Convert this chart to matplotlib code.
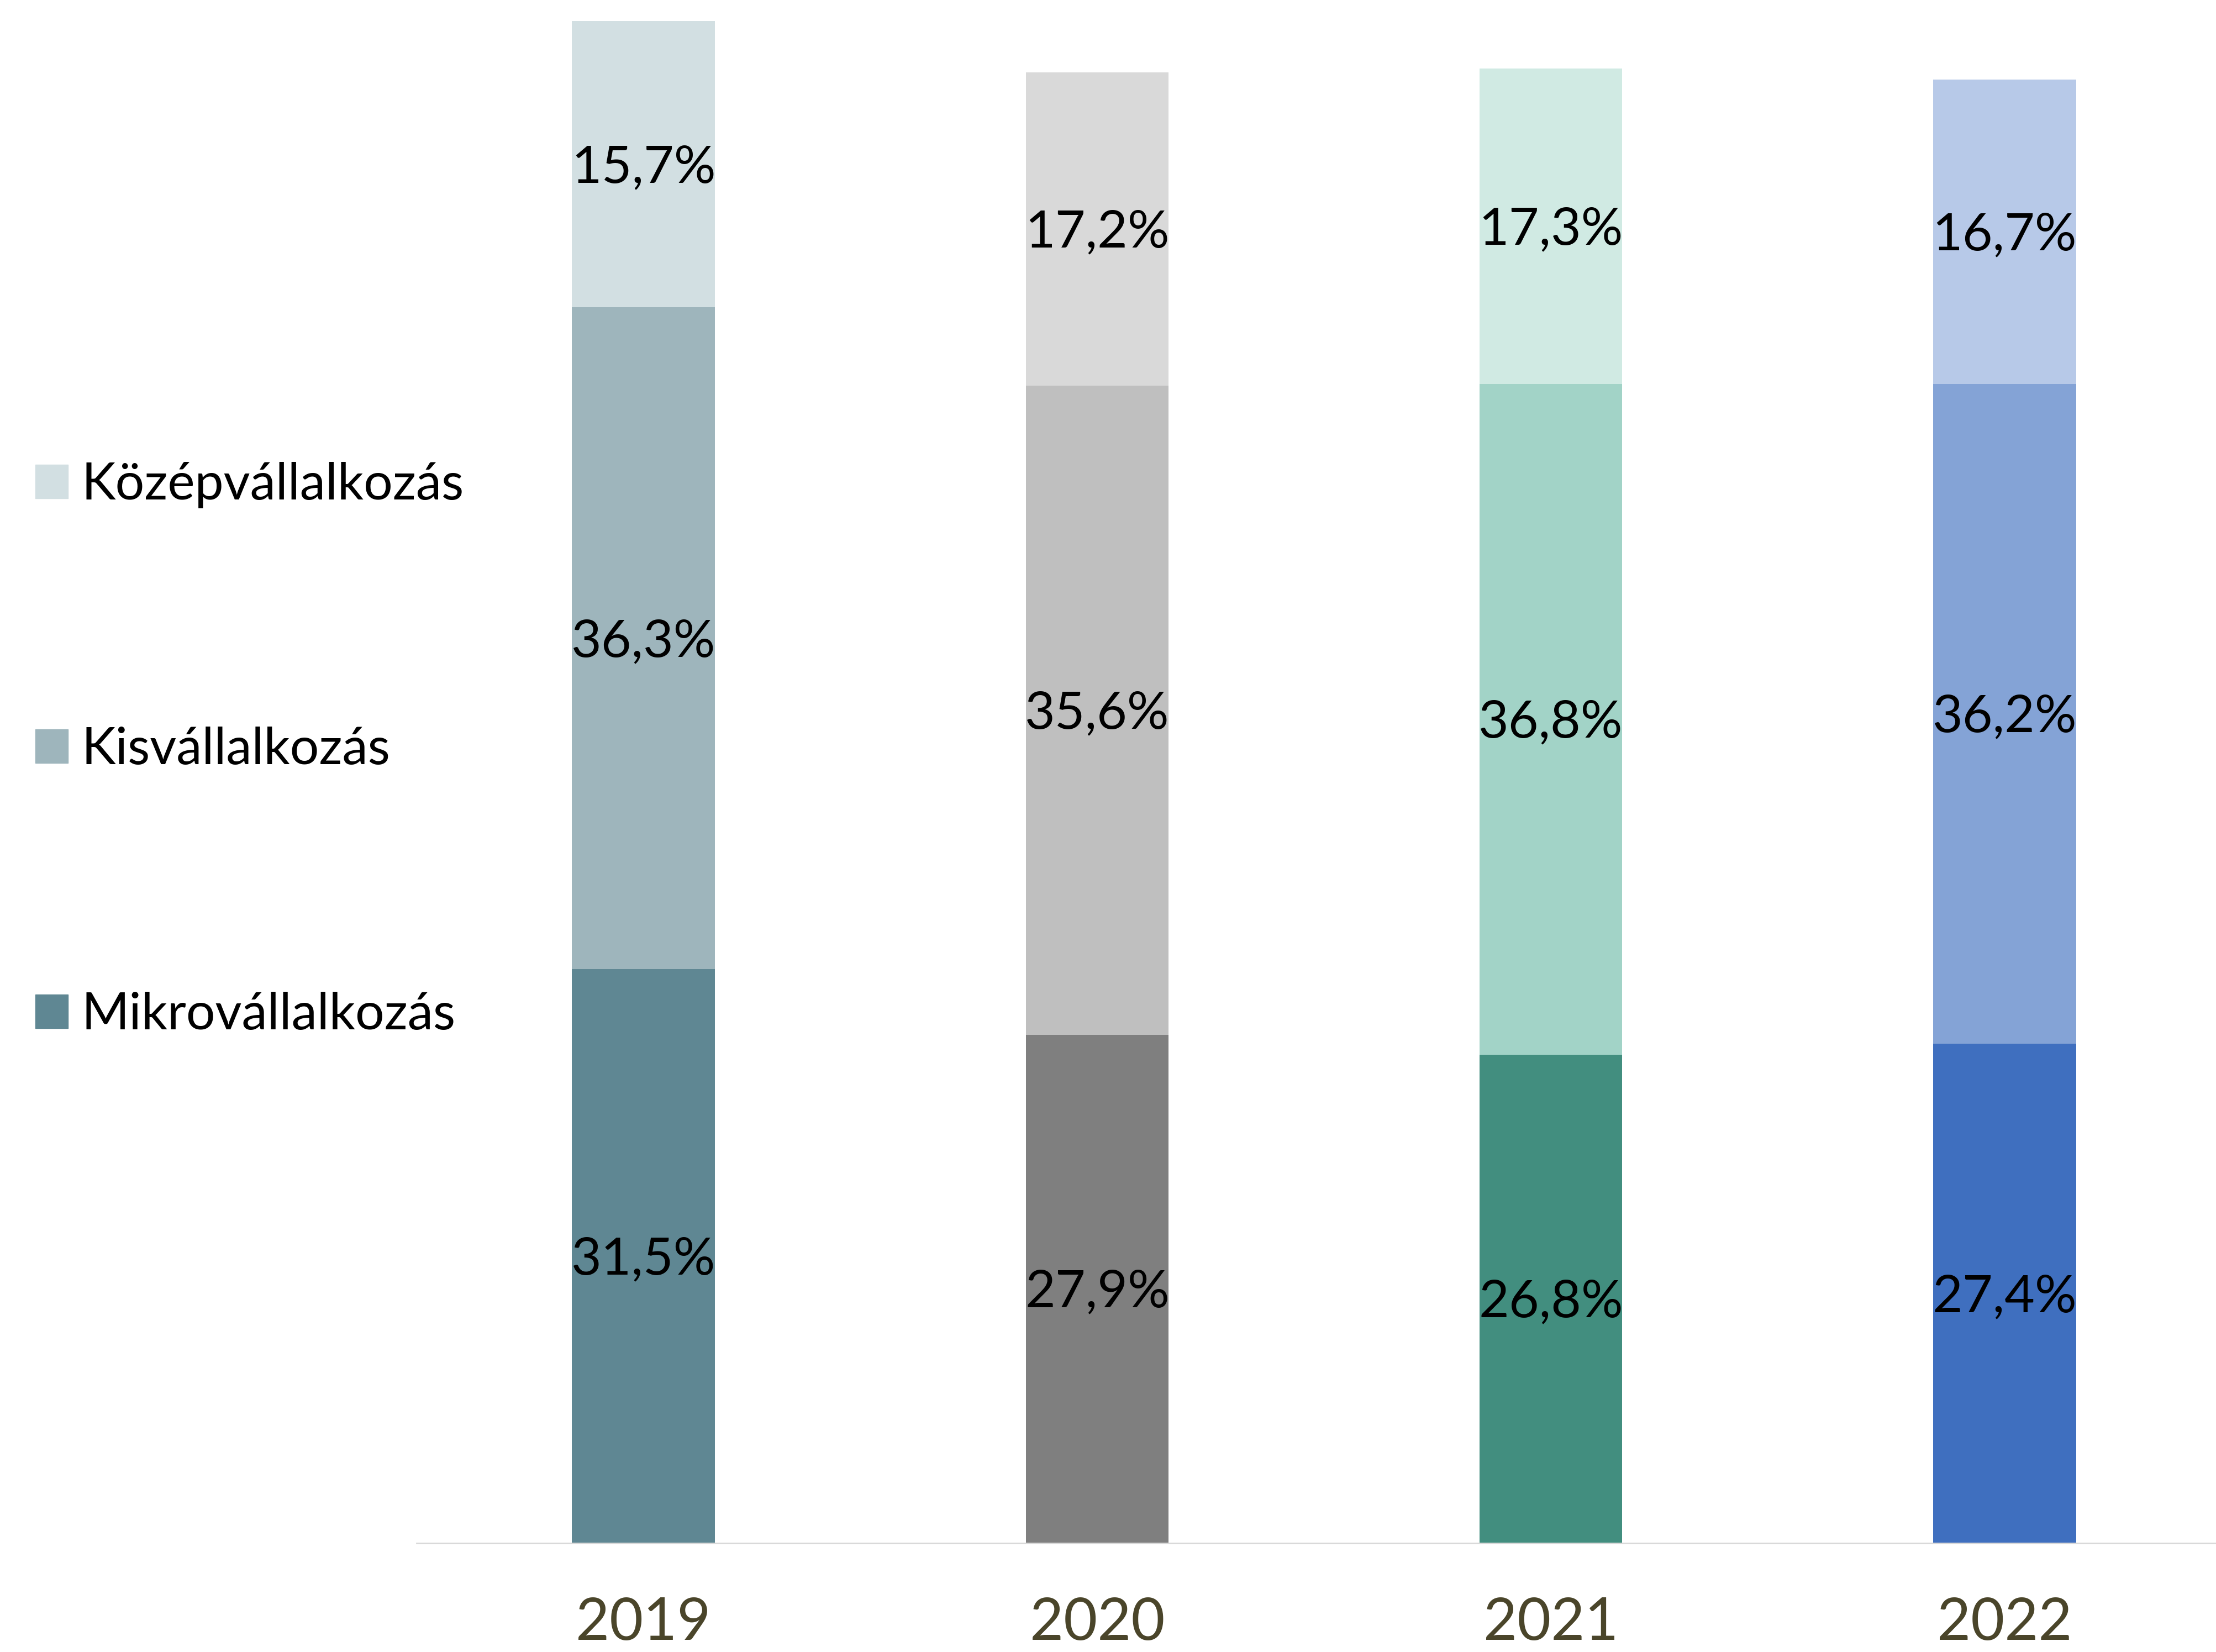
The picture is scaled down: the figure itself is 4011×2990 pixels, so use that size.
import matplotlib
matplotlib.use("Agg")
import matplotlib.pyplot as plt
from matplotlib.patches import Patch

years = ["2019", "2020", "2021", "2022"]
segments = ["Mikrovállalkozás", "Kisvállalkozás", "Középvállalkozás"]
mikro = [31.5, 27.9, 26.8, 27.4]
kis = [36.3, 35.6, 36.8, 36.2]
kozep = [15.7, 17.2, 17.3, 16.7]

# colour per year, bottom -> top
colors = [
    ["#5f8793", "#9eb5bc", "#d2dfe2"],
    ["#7f7f7f", "#bfbfbf", "#d9d9d9"],
    ["#428e7f", "#a2d3c7", "#d0eae3"],
    ["#3f6fbf", "#84a3d6", "#b7c9e8"],
]

FONT = "Lato"
plt.rcParams["font.family"] = [FONT, "DejaVu Sans"]

fig = plt.figure(figsize=(40.11, 29.90), dpi=100)
ax = fig.add_axes([0.188, 0.0659, 0.812, 0.9213])

values = [mikro, kis, kozep]
x = list(range(len(years)))
bottoms = [0.0] * len(years)
for s, vals in enumerate(values):
    for i in x:
        ax.bar(i, vals[i], bottom=bottoms[i], width=0.315,
               color=colors[i][s], linewidth=0)
        label = f"{vals[i]:.1f}%".replace(".", ",")
        ax.annotate(label, (i, bottoms[i] + vals[i] / 2), xytext=(0, -5),
                    textcoords="offset points", ha="center", va="center",
                    fontsize=68, color="black")
    bottoms = [b + v for b, v in zip(bottoms, vals)]

ax.set_xlim(-0.5, 3.466)
ax.set_ylim(0, 83.5)
ax.set_xticks(x)
ax.set_xticklabels(years, fontsize=76, color="#4a452a")
ax.tick_params(axis="x", length=0, pad=70)
ax.set_yticks([])
for side in ["top", "left", "right"]:
    ax.spines[side].set_visible(False)
ax.spines["bottom"].set_color("#d9d9d9")
ax.spines["bottom"].set_linewidth(2)

handles = [Patch(color=colors[0][s]) for s in (2, 1, 0)]
labels = [segments[s] for s in (2, 1, 0)]
fig.legend(handles, labels, loc="center left", bbox_to_anchor=(0.016, 0.546),
           frameon=False, fontsize=67, handlelength=0.63, handleheight=0.63,
           handletextpad=0.27, labelspacing=4.25, borderpad=0, borderaxespad=0)

fig.savefig("out.png", dpi=100)
